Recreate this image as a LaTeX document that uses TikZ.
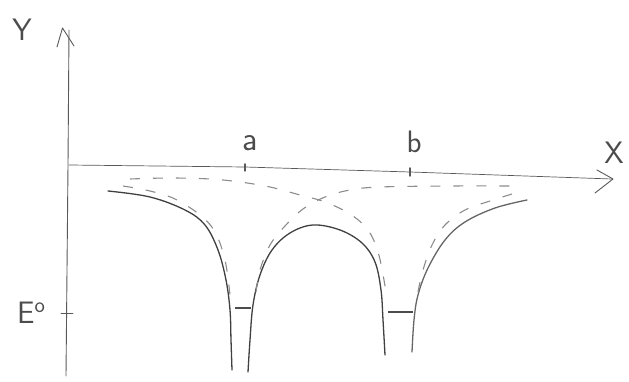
\documentclass[tikz,border=0pt]{standalone}
\begin{document}
\begin{tikzpicture}[x=1pt,y=-1pt,
  axisline/.style={draw=black!65,line width=0.9pt,line cap=round,line join=round},
  solidcurve/.style={draw=black!75,line width=1.3pt,line cap=round},
  dashcurve/.style={draw=black!45,line width=1.1pt,dash pattern=on 10pt off 13pt},
  lbl/.style={font=\sffamily\fontsize{31}{31}\selectfont,text=black!70,inner sep=0pt},
  level/.style={draw=black!70,line width=1.1pt}]
\useasboundingbox (0,0) rectangle (629,382);
% axes
\draw[axisline] (66,376) -- (68,165) -- (69,30);
\draw[axisline] (57,47) -- (62.5,28) -- (74,46);
\draw[axisline,line width=0.7pt] (69,165) -- (245,167) -- (410,172) -- (612,179);
\draw[axisline] (597,170) -- (613,179) -- (595,193);
% ticks
\draw[axisline,line width=1.5pt] (245,164) -- (245,171);
\draw[axisline,line width=1.5pt] (410,168) -- (410,176);
\draw[axisline] (61,313) -- (73,313);
% labels
\node[lbl] (ylab) at (22,30) {Y};
\node[lbl] (xlab) at (614,153) {X};
\node[lbl,font=\sffamily\fontsize{34}{34}\selectfont] (alab) at (250,143) {a};
\node[lbl] (blab) at (414,142) {b};
\node[lbl] (elab) at (31,313) {E\raisebox{0.35em}{\fontsize{22}{22}\selectfont o}};
% solid curves
\draw[solidcurve] plot[smooth,tension=0.6] coordinates {(108,191) (150,197) (185,210) (205,225) (218,250) (226,280) (230,310) (231,340) (232,370)};
\draw[solidcurve] plot[smooth,tension=0.6] coordinates {(248,372) (250,340) (253,305) (260,275) (272,250) (290,233) (313,225) (340,230) (362,243) (375,262) (381,290) (383,320) (385,355)};
\draw[solidcurve,draw=black!60] plot[smooth,tension=0.6] coordinates {(412,352) (414,320) (418,295) (428,268) (445,240) (465,222) (495,208) (527,200)};
% dashed curves
\draw[dashcurve] plot[smooth,tension=0.6] coordinates {(123,186) (150,191) (175,199) (200,215) (215,232) (225,260) (230,295)};
\draw[dashcurve] plot[smooth,tension=0.6] coordinates {(256,292) (260,270) (270,245) (285,226) (303,209) (325,197) (350,190) (380,187) (450,186) (512,186)};
\draw[dashcurve] plot[smooth,tension=0.6] coordinates {(130,179) (170,178) (210,179) (240,182) (270,187) (300,195) (325,202) (350,214) (368,230) (378,252) (384,280) (386,295)};
\draw[dashcurve] plot[smooth,tension=0.6] coordinates {(418,292) (423,270) (432,245) (445,225) (465,210) (490,201) (512,194)};
% levels
\draw[level] (235,308) -- (251,308);
\draw[level] (388,312) -- (413,312);
\end{tikzpicture}
\end{document}
